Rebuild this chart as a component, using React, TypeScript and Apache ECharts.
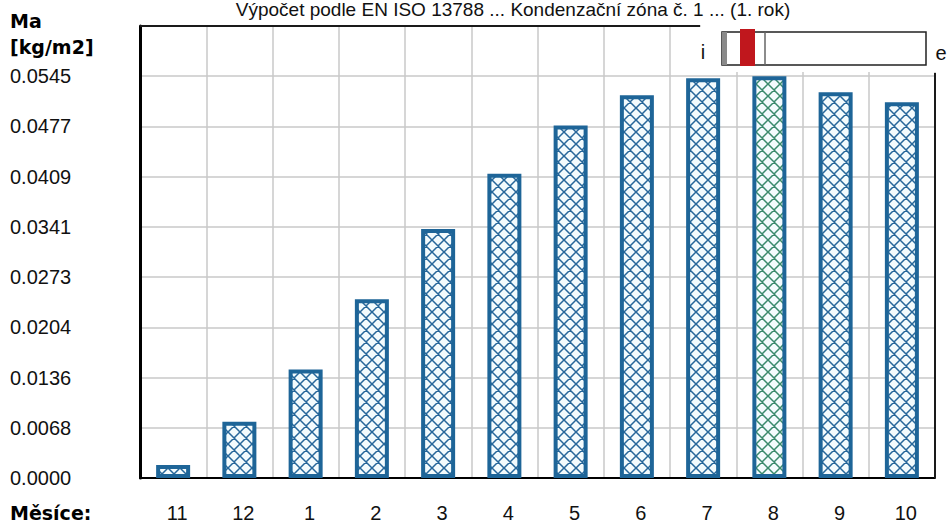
import React, { useEffect, useRef } from "react";
import * as echarts from "echarts";

const months = ["11", "12", "1", "2", "3", "4", "5", "6", "7", "8", "9", "10"];
const moisture = [0.00177, 0.00763, 0.01472, 0.02426, 0.0338, 0.04129, 0.04783, 0.05192, 0.05424, 0.05451, 0.05233, 0.05097];
const highlightMonth = "8";
const tickStep = 0.006814;
const tickCount = 9;
const titleText = "Výpočet podle EN ISO 13788 ... Kondenzační zóna č. 1 ... (1. rok)";
const yTitleLines = ["Ma", "[kg/m2]"];
const xTitle = "Měsíce:";
const insetLabels = ["i", "e"];

function makeHatch(lineColor: string, bg: string) {
  const n = 12;
  const c = document.createElement("canvas");
  c.width = n;
  c.height = n;
  const ctx = c.getContext("2d")!;
  ctx.fillStyle = bg;
  ctx.fillRect(0, 0, n, n);
  ctx.strokeStyle = lineColor;
  ctx.lineWidth = 1.5;
  ctx.beginPath();
  for (const o of [-n, 0, n]) {
    ctx.moveTo(o, 0);
    ctx.lineTo(o + n, n);
    ctx.moveTo(o + n, 0);
    ctx.lineTo(o, n);
  }
  ctx.stroke();
  return { image: c, repeat: "repeat", imageWidth: n, imageHeight: n };
}

export default function App() {
  const ref = useRef<HTMLDivElement>(null);
  useEffect(() => {
    if (!ref.current) return;
    const chart = echarts.init(ref.current, null, { renderer: "svg" });
    const blueHatch = makeHatch("#27679a", "#f3fbfd");
    const greenHatch = makeHatch("#3a8a6c", "#f3fbfd");
    const labelFont = { fontFamily: "Liberation Sans", fontSize: 20, color: "#111" };
    const boldFont = "bold 19px 'DejaVu Sans'";
    const option: any = {
      animation: false,
      backgroundColor: "#fff",
      grid: { left: 140, right: 12, top: 26, bottom: 47 },
      xAxis: {
        type: "category",
        data: months,
        axisLine: { show: true, lineStyle: { color: "#000", width: 2 } },
        axisTick: { show: false },
        axisLabel: { ...labelFont, margin: 25, padding: [0, 0, 0, 8] },
        splitLine: { show: true, interval: 0, lineStyle: { color: "#c8c8c8", width: 1.5 } },
      },
      yAxis: {
        type: "value",
        min: 0,
        max: tickStep * tickCount,
        interval: tickStep,
        axisLine: { show: true, lineStyle: { color: "#000", width: 3 } },
        axisTick: { show: false },
        axisLabel: {
          ...labelFont,
          align: "left",
          margin: 130,
          padding: [10, 0, 0, 0],
          formatter: (v: number, i: number) => (i >= tickCount ? "" : v.toFixed(4)),
        },
        splitLine: { show: true, lineStyle: { color: "#c8c8c8", width: 1.5 } },
      },
      series: [
        {
          type: "bar",
          barWidth: 34,
          data: months.map((m, i) => ({
            value: moisture[i],
            itemStyle: { color: m === highlightMonth ? greenHatch : blueHatch },
          })),
          itemStyle: { borderColor: "#1e6598", borderWidth: 4 },
          emphasis: { disabled: true },
        },
      ],
      graphic: [
        { type: "rect", z: 50, shape: { x: 701, y: 0, width: 246, height: 72 }, style: { fill: "#fff" } },
        {
          type: "text", z: 51, x: 513, y: 9,
          style: { text: titleText, font: "19px 'Liberation Sans'", fill: "#111", align: "center", verticalAlign: "middle" },
        },
        { type: "line", z: 51, shape: { x1: 140, y1: 26, x2: 700, y2: 26 }, style: { stroke: "#1a1a1a", lineWidth: 2 } },
        { type: "line", z: 51, shape: { x1: 935, y1: 73, x2: 935, y2: 478 }, style: { stroke: "#1a1a1a", lineWidth: 2 } },
        { type: "text", z: 51, x: 10, y: 21, style: { text: yTitleLines[0], font: boldFont, fill: "#000", verticalAlign: "middle" } },
        { type: "text", z: 51, x: 10, y: 47, style: { text: yTitleLines[1], font: boldFont, fill: "#000", verticalAlign: "middle" } },
        { type: "text", z: 51, x: 10, y: 513, style: { text: xTitle, font: boldFont, fill: "#000", verticalAlign: "middle" } },
        { type: "rect", z: 51, shape: { x: 722, y: 32, width: 204, height: 33 }, style: { fill: "#fff", stroke: "#222", lineWidth: 1.5 } },
        { type: "rect", z: 52, shape: { x: 722, y: 32, width: 5, height: 33 }, style: { fill: "#8a8a8a" } },
        { type: "line", z: 52, shape: { x1: 765, y1: 32, x2: 765, y2: 65 }, style: { stroke: "#666", lineWidth: 1.5 } },
        { type: "rect", z: 53, shape: { x: 740, y: 29, width: 15, height: 37 }, style: { fill: "#c0171d" } },
        { type: "text", z: 51, x: 703, y: 52, style: { text: insetLabels[0], font: "20px 'Liberation Sans'", fill: "#111", align: "center", verticalAlign: "middle" } },
        { type: "text", z: 51, x: 941, y: 53, style: { text: insetLabels[1], font: "20px 'Liberation Sans'", fill: "#111", align: "center", verticalAlign: "middle" } },
      ],
    };
    chart.setOption(option);
    return () => chart.dispose();
  }, []);
  return <div ref={ref} style={{ position: "fixed", left: 0, top: 0, width: 947, height: 525 }} />;
}
